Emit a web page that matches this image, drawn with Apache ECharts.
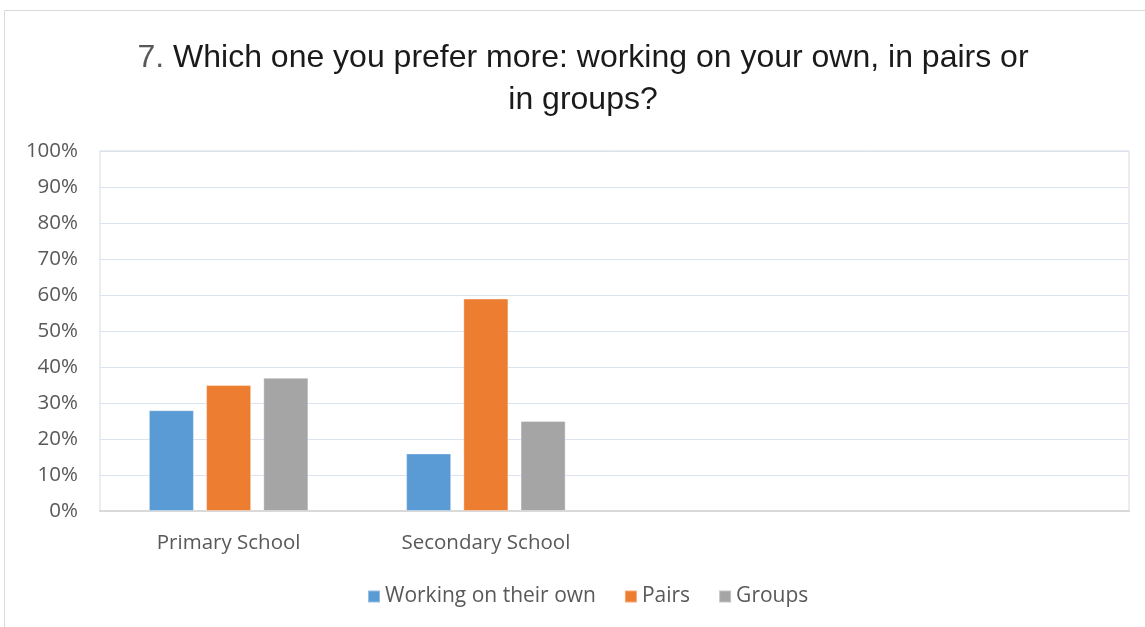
<!DOCTYPE html>
<html>
<head>
<meta charset="utf-8">
<script src="https://cdn.jsdelivr.net/npm/echarts@6/dist/echarts.min.js"></script>
<style>
  html, body { margin: 0; padding: 0; background: #fff; }
  #chart { width: 1145px; height: 627px; }
</style>
</head>
<body>
<div id="chart"></div>
<script>
// Survey question 7: preferred working mode by school level (percent of answers)
const categories = ['Primary School', 'Secondary School', '', ''];
const ownValues = [28, 16];
const pairsValues = [35, 59];
const groupsValues = [37, 25];
const seriesNames = ['Working on their own', 'Pairs', 'Groups'];
const yTicks = [0, 10, 20, 30, 40, 50, 60, 70, 80, 90, 100];

const colors = ['#5b9bd5', '#ed7d31', '#a5a5a5'];
const labelColor = '#595959';
const labelFont = '"Open Sans", "Noto Sans", sans-serif';
const titleFont = '"Liberation Sans", Arial, sans-serif';

const chart = echarts.init(document.getElementById('chart'), null, { renderer: 'canvas' });

function barSeries(name, data, color) {
  return {
    name: name,
    type: 'bar',
    data: data,
    barGap: '27%',
    barCategoryGap: '38%',
    itemStyle: { color: color, borderColor: 'rgba(255,255,255,0.35)', borderWidth: 1 },
    emphasis: { disabled: true }
  };
}

chart.setOption({
  animation: false,
  title: {
    text: '{n|7.} Which one you prefer more: working on your own, in pairs or\nin groups?',
    left: 578,
    textAlign: 'center',
    top: 32,
    textStyle: {
      fontFamily: titleFont,
      fontWeight: 'normal',
      fontSize: 32,
      color: '#1a1a1a',
      lineHeight: 42,
      rich: {
        n: { fontSize: 32, color: '#595959', fontFamily: titleFont, lineHeight: 42 }
      }
    }
  },
  graphic: [{
    type: 'rect',
    shape: { x: 4.5, y: 10.5, width: 1300, height: 800 },
    style: { fill: 'none', stroke: '#d9d9d9', lineWidth: 1 },
    silent: true,
    z: -1
  }],
  legend: {
    data: seriesNames,
    bottom: 15,
    left: 362,
    itemWidth: 12,
    itemHeight: 12,
    itemGap: 28,
    icon: 'rect',
    textStyle: { color: labelColor, fontSize: 21, fontFamily: labelFont }
  },
  grid: {
    left: 100,
    right: 16,
    top: 151,
    bottom: 116,
    show: true,
    borderColor: '#d9d9d9',
    borderWidth: 1,
    backgroundColor: '#fff'
  },
  xAxis: {
    type: 'category',
    data: categories,
    axisTick: { show: false },
    axisLine: { lineStyle: { color: '#d9d9d9', width: 2 } },
    axisLabel: { color: labelColor, fontSize: 20.5, fontFamily: labelFont, margin: 22 }
  },
  yAxis: {
    type: 'value',
    min: yTicks[0],
    max: yTicks[yTicks.length - 1],
    interval: yTicks[1] - yTicks[0],
    axisLine: { show: false },
    axisTick: { show: false },
    splitLine: { lineStyle: { color: '#dae3ef', width: 1 } },
    axisLabel: { color: labelColor, fontSize: 20.5, fontFamily: labelFont, margin: 22, formatter: '{value}%' }
  },
  series: [
    barSeries(seriesNames[0], ownValues, colors[0]),
    barSeries(seriesNames[1], pairsValues, colors[1]),
    barSeries(seriesNames[2], groupsValues, colors[2])
  ]
});
</script>
</body>
</html>
